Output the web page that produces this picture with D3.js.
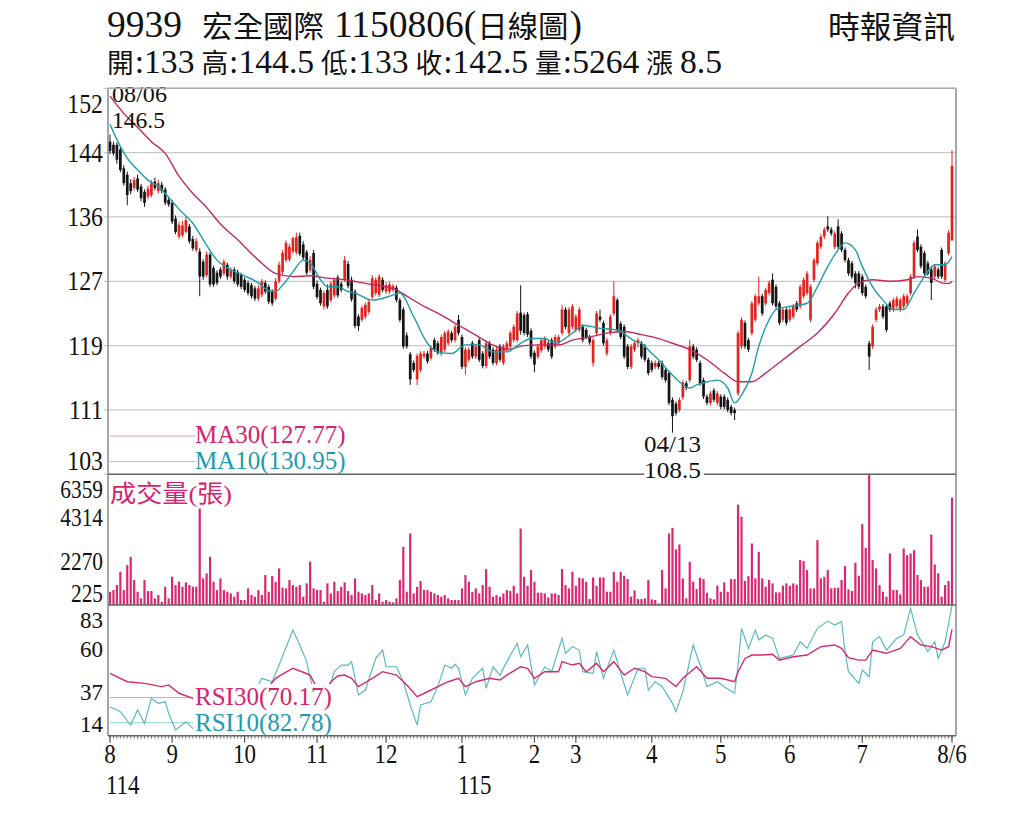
<!DOCTYPE html>
<html>
<head>
<meta charset="utf-8">
<script src="https://cdn.jsdelivr.net/npm/d3@7.9.0/dist/d3.min.js"></script>
<style>
  html, body { margin: 0; padding: 0; background: #fff; }
  svg { display: block; }
</style>
</head>
<body>
<svg id="chart" width="1024" height="819"></svg>
<script>
// ---- daily candles [open, high, low, close], 114/08/06 .. 115/08/06 ----
const candles = [
  [145.6,146.5,144.0,144.4],[145.2,145.6,143.8,144.1],[145.2,145.5,142.8,143.3],[144.6,145.0,141.7,142.0],[142.2,142.6,140.0,140.3],[141.4,141.8,137.5,138.8],[140.3,140.8,138.9,139.3],[139.7,141.1,139.4,140.7],[140.9,141.4,139.2,139.5],[139.9,140.2,138.0,138.4],
  [139.2,139.5,137.3,137.8],[138.6,140.0,138.3,139.6],[138.8,140.7,138.5,140.3],[140.5,141.0,139.4,139.7],[139.3,140.7,139.0,140.3],[140.1,140.5,139.0,139.3],[139.5,139.8,137.5,137.8],[138.2,138.6,137.3,137.6],[137.8,138.2,135.1,135.4],[135.8,136.2,133.8,134.1],
  [133.5,135.4,133.2,135.0],[133.7,135.5,133.4,134.9],[134.1,136.1,133.9,135.6],[134.8,135.1,132.6,132.9],[133.2,133.6,131.7,132.0],[131.8,133.3,131.5,132.9],[131.6,132.0,125.9,128.4],[130.3,130.6,128.0,128.4],[128.6,131.6,128.3,131.2],[131.2,131.5,127.1,127.4],
  [129.5,129.8,127.1,127.4],[128.9,129.2,127.3,127.6],[129.3,129.6,128.1,128.4],[128.8,130.6,128.5,130.3],[129.9,130.2,128.0,128.4],[128.4,129.6,128.1,129.3],[129.3,129.6,127.5,127.8],[129.0,129.3,127.1,127.4],[128.6,128.9,126.8,127.1],[128.0,128.3,126.4,126.7],
  [127.6,127.9,126.0,126.3],[127.3,127.6,125.6,125.9],[126.9,127.2,125.3,125.6],[125.6,127.3,125.3,126.9],[126.1,128.1,125.8,127.8],[127.6,127.9,126.2,126.5],[127.1,127.4,124.9,125.2],[126.5,126.8,124.7,125.0],[125.6,128.2,125.3,127.8],[127.8,130.3,127.5,129.9],
  [129.0,131.8,128.7,131.4],[130.5,133.0,130.2,132.7],[130.6,132.6,130.3,132.2],[131.6,133.5,131.3,133.3],[131.5,134.0,131.2,133.4],[133.6,134.0,131.0,131.3],[132.5,132.9,130.5,130.8],[131.5,131.8,128.6,128.9],[129.2,131.0,128.9,130.5],[131.4,131.8,126.8,127.1],
  [127.5,127.9,125.5,125.8],[126.7,127.0,124.7,125.0],[124.6,126.6,124.2,126.3],[126.7,127.4,124.3,124.6],[125.4,127.8,125.1,127.5],[126.0,128.3,125.7,128.0],[128.3,128.6,125.7,126.0],[127.5,127.8,126.4,126.7],[128.0,131.0,127.7,130.5],[130.0,130.4,126.9,127.2],
  [128.0,128.4,125.2,125.5],[126.5,126.8,121.8,122.1],[123.3,123.6,121.5,122.1],[122.9,124.7,122.6,124.4],[123.3,125.1,123.0,124.8],[123.9,125.5,123.6,125.2],[125.8,128.6,125.5,128.2],[126.3,128.3,126.0,128.0],[126.1,128.7,125.8,128.4],[128.0,128.3,126.4,126.7],
  [126.5,127.7,126.2,127.3],[126.5,127.8,126.2,127.4],[126.7,127.5,126.4,127.2],[127.0,127.3,125.1,125.4],[125.4,125.7,122.6,122.9],[124.2,124.5,119.2,119.5],[120.9,121.3,119.2,119.5],[118.5,118.8,114.6,115.3],[117.4,117.7,116.2,116.5],[115.3,118.6,114.6,118.3],
  [116.5,118.9,116.2,118.6],[118.2,118.9,117.9,118.6],[118.6,118.9,117.3,117.6],[118.0,119.6,117.7,119.3],[120.3,120.6,118.8,119.1],[119.9,120.2,118.4,118.7],[118.6,121.0,118.3,120.7],[119.1,121.5,118.8,121.2],[119.9,121.7,119.6,121.4],[121.2,121.5,120.0,120.3],
  [120.3,122.3,120.0,122.0],[122.9,123.5,120.9,121.2],[120.7,121.0,116.6,116.9],[116.9,119.4,115.9,119.1],[117.8,119.4,117.5,119.1],[119.9,120.2,117.9,118.2],[118.2,119.8,117.9,119.5],[120.3,120.6,117.5,117.8],[118.6,118.9,116.7,117.0],[117.0,120.2,116.7,119.9],
  [119.9,120.2,117.9,118.2],[119.1,119.4,117.1,117.4],[117.4,119.4,117.1,119.1],[119.5,119.8,117.5,117.8],[117.4,119.8,117.1,119.5],[119.1,120.2,118.8,119.9],[119.5,121.5,119.2,121.2],[120.3,122.3,120.0,122.0],[120.3,124.0,120.0,123.7],[123.8,127.3,121.0,121.5],
  [123.5,123.8,120.9,121.2],[123.6,123.9,120.7,121.0],[121.5,121.8,117.9,118.2],[118.7,119.0,116.2,117.2],[118.2,119.8,117.9,119.5],[119.0,120.6,118.7,120.3],[119.5,120.8,119.2,120.5],[119.9,120.2,118.8,119.1],[120.3,120.6,117.9,118.2],[119.5,121.0,119.2,120.7],
  [119.9,121.0,119.6,120.7],[121.2,124.8,120.9,124.2],[124.2,124.5,121.7,122.0],[121.2,124.5,120.9,124.2],[122.0,124.9,121.7,124.6],[121.6,123.6,121.3,123.3],[121.6,124.5,121.3,124.2],[122.0,122.3,120.0,120.3],[121.6,121.9,120.4,120.7],[120.7,121.0,119.7,120.0],
  [117.4,120.6,116.9,120.3],[121.2,124.0,120.9,123.7],[123.3,124.2,122.6,122.9],[122.5,122.8,119.6,119.9],[118.6,120.6,118.3,120.3],[121.2,123.6,120.9,123.3],[123.7,127.8,123.4,125.9],[125.4,125.7,121.3,121.6],[122.4,122.7,120.4,120.7],[122.0,122.3,117.9,118.2],
  [119.5,119.8,116.6,116.9],[116.9,119.8,116.6,119.5],[119.1,120.2,118.8,119.9],[119.9,120.6,119.4,120.3],[119.9,120.2,117.9,118.2],[119.5,119.8,117.5,117.8],[117.8,118.1,115.8,116.1],[117.4,117.7,116.2,116.5],[116.9,117.7,116.6,117.4],[117.4,117.7,116.6,116.9],
  [117.4,117.7,115.3,115.6],[116.5,116.8,114.9,115.2],[116.1,116.4,112.0,112.3],[112.7,113.0,108.5,110.6],[112.2,112.5,110.7,111.0],[111.4,113.0,111.1,112.7],[113.0,115.2,112.7,114.9],[114.8,115.1,113.9,114.2],[115.2,120.3,114.9,119.5],[119.5,119.8,117.9,118.2],
  [119.1,119.4,117.5,117.8],[117.4,117.7,114.5,114.8],[115.2,115.5,112.8,113.1],[113.1,113.4,112.0,112.3],[112.3,113.8,112.0,113.5],[113.9,114.2,112.4,112.7],[112.3,113.8,112.0,113.5],[113.1,113.4,111.5,111.8],[113.1,113.4,111.5,111.8],[112.7,113.0,111.1,111.4],
  [111.8,112.1,110.7,111.0],[111.4,111.7,110.1,111.0],[113.5,121.5,113.2,121.2],[119.5,123.2,119.2,122.9],[122.5,122.8,119.2,119.5],[120.3,120.6,118.8,119.1],[121.2,125.3,120.9,125.0],[122.9,126.2,122.6,125.9],[125.0,128.4,124.7,125.9],[125.9,126.2,123.4,123.7],
  [125.0,127.0,124.7,126.7],[126.3,127.9,126.0,127.6],[128.0,128.8,124.7,125.0],[127.1,127.4,124.3,124.6],[125.0,125.3,122.2,122.5],[122.9,124.5,122.6,124.2],[124.2,124.5,122.2,122.5],[122.9,124.5,122.6,124.2],[123.3,124.9,123.0,124.6],[125.0,125.3,123.9,124.2],
  [124.6,127.4,124.3,127.1],[125.9,128.3,125.6,128.0],[126.3,129.1,126.0,128.8],[122.9,127.4,122.6,127.1],[128.0,130.8,127.7,130.5],[130.1,133.0,129.8,132.7],[132.2,133.8,131.9,133.5],[133.5,134.7,133.2,134.4],[134.8,136.1,134.1,134.4],[134.4,134.7,133.6,133.9],
  [132.2,134.2,131.9,133.9],[134.8,135.7,131.9,132.2],[133.9,134.2,131.5,131.8],[131.8,132.1,130.2,130.5],[130.5,130.8,128.5,128.8],[130.1,130.4,128.1,128.4],[128.8,129.1,126.9,127.6],[128.8,129.1,126.8,127.1],[128.4,128.7,126.0,126.3],[127.1,127.4,125.6,125.9],
  [119.9,120.2,116.5,118.2],[119.5,122.3,119.2,122.0],[122.9,124.5,122.6,124.2],[124.2,124.9,123.9,124.6],[124.6,124.9,123.0,123.3],[124.6,124.9,121.3,121.6],[125.0,125.3,123.9,124.2],[124.2,125.7,123.9,125.4],[124.6,125.9,124.3,125.6],[124.2,125.7,123.9,125.4],
  [124.6,126.2,124.3,125.9],[125.0,126.2,124.7,125.9],[126.3,128.7,126.0,128.4],[128.4,133.0,128.1,132.7],[133.5,134.4,131.5,131.8],[132.2,132.5,129.4,129.7],[131.4,131.7,128.5,128.8],[130.1,130.4,128.5,128.8],[129.3,129.6,125.4,127.6],[128.4,130.0,128.1,129.7],
  [129.3,129.6,128.1,128.4],[131.8,132.1,128.1,128.4],[128.0,130.4,127.7,130.1],[131.4,134.3,131.1,134.0],[133.0,144.5,133.0,142.5]
];

// ---- daily volume (張) ----
const volumes = [
  848,926,1160,1785,926,2097,2487,1395,848,536,
  1395,879,879,536,692,380,1082,536,1551,1160,
  1317,1082,1285,1160,1082,1082,4751,1473,1707,2487,
  1317,926,1473,926,848,770,614,848,458,458,
  1004,692,614,926,692,1629,848,1582,1317,1941,
  1036,1004,1395,1160,1082,1160,614,1239,2253,1004,
  926,926,380,1239,770,1317,879,1082,1285,879,
  692,1473,848,770,692,770,1160,458,770,380,
  458,380,349,536,1395,2955,848,3580,770,1082,
  1348,926,926,848,770,692,614,692,536,458,
  458,458,1004,1629,1317,848,1004,770,1160,1910,
  1082,614,692,614,770,926,879,1129,770,3814,
  1551,1129,1863,1317,801,801,770,583,770,770,
  692,1910,1160,1004,1785,1129,1504,1473,1317,505,
  1519,1129,1519,1519,848,848,1785,1317,1785,1598,
  1441,614,911,505,505,536,1395,489,458,302,
  1863,1004,3580,3845,2831,3065,1473,536,2253,1317,
  973,1504,1441,801,536,489,1129,848,1285,848,
  1441,1441,4938,4361,1348,1582,3112,1473,2721,1473,
  1082,1395,1239,817,817,1129,1239,1129,1239,1180,
  2331,2284,1863,1004,1004,3268,1473,1551,1863,1004,
  1036,1036,1395,2050,957,879,2206,1598,4017,2909,
  6343,2331,1941,1160,848,614,2643,926,926,723,
  2878,2565,2643,2799,1629,1395,1082,1082,3533,2128,
  1707,614,1160,1348,5264
];

// ---- moving averages [day, value] ----
const ma30 = [
  [0,151.4],[4,149.2],[8,147.4],[12,145.6],[16,144.1],[20,141.2],[24,139.0],[28,137.2],[32,135.1],[37,133.1],
  [43,130.5],[48,128.8],[53,128.4],[58,128.5],[63,128.2],[68,128.0],[72,127.7],[76,127.4],[83,126.7],[86,125.9],
  [91,124.6],[96,123.5],[101,122.2],[105,121.2],[110,119.9],[115,119.1],[120,119.6],[125,119.7],[130,119.7],[134,120.3],
  [139,120.7],[144,121.2],[149,121.4],[154,121.0],[159,120.5],[163,119.9],[168,119.1],[173,117.8],[178,116.1],[182,115.0],
  [186,115.0],[190,116.1],[195,117.8],[200,119.5],[205,121.2],[210,123.7],[214,126.3],[217,127.6],[221,128.0],[226,127.8],
  [231,128.0],[234,128.4],[238,128.2],[241,127.6],[243,127.5],[244,127.77]
];
const ma10 = [
  [0,147.8],[3,145.0],[5,143.5],[8,142.0],[11,140.7],[14,139.9],[17,138.5],[20,137.0],[24,135.2],[28,132.4],
  [31,130.5],[34,129.5],[39,128.5],[43,127.6],[46,126.6],[48,126.5],[50,127.3],[53,129.0],[56,130.5],[58,130.1],
  [61,128.0],[63,127.1],[66,127.1],[69,126.5],[71,126.3],[76,125.4],[81,125.9],[84,126.3],[88,123.3],[92,119.9],
  [95,118.8],[99,118.6],[103,119.7],[107,119.7],[111,118.8],[115,118.8],[119,119.9],[122,120.5],[126,120.5],[129,119.9],
  [134,121.2],[137,122.2],[142,121.8],[147,121.6],[152,120.2],[154,119.9],[157,118.6],[159,117.8],[162,116.3],[165,115.0],
  [168,114.2],[170,114.6],[173,115.0],[176,115.2],[179,114.2],[181,112.3],[183,113.3],[186,116.1],[188,119.5],[191,122.9],
  [193,124.2],[197,124.6],[202,125.0],[205,127.1],[208,129.7],[211,131.8],[213,132.7],[216,131.8],[218,129.7],[221,127.1],
  [224,125.4],[227,124.2],[230,124.2],[233,126.3],[236,128.4],[239,129.9],[242,129.9],[244,130.95]
];

// ---- RSI [day, value] ----
const rsi30 = [
  [0,46.9],[5,42.5],[10,41.6],[15,39.9],[17,40.8],[20,36.4],[24,33.7],[28,33.0],[34,32.0],[40,34.0],
  [44,36.0],[46,40.0],[48,44.3],[50,46.5],[53,49.6],[56,47.5],[58,46.0],[60,39.0],[62,36.5],[64,42.5],
  [66,45.5],[68,46.0],[70,44.3],[72,39.9],[76,44.3],[79,47.8],[83,46.0],[86,40.8],[89,34.6],[92,37.2],
  [95,39.9],[98,42.5],[101,44.3],[103,39.9],[106,42.5],[110,44.3],[113,43.4],[115,46.0],[119,50.4],[121,49.6],
  [123,44.3],[126,47.8],[130,47.8],[131,53.1],[134,51.3],[136,52.2],[138,47.8],[141,52.2],[143,47.8],[146,53.1],
  [149,46.0],[152,49.6],[155,47.8],[157,45.2],[161,44.3],[164,39.9],[166,44.3],[170,50.4],[173,44.3],[177,44.3],
  [181,42.5],[182,47.8],[184,54.8],[186,56.6],[189,56.6],[192,57.0],[194,53.9],[198,55.7],[202,56.6],[206,61.0],
  [210,61.9],[212,60.1],[214,55.2],[217,53.9],[219,53.9],[221,59.2],[225,57.5],[229,60.1],[232,66.3],[235,61.9],
  [238,61.0],[241,59.2],[243,61.0],[244,70.17]
];
const rsi10 = [
  [0,29.3],[3,26.7],[6,19.6],[8,27.6],[10,20.5],[12,33.7],[14,31.1],[16,31.9],[17,25.8],[19,17.0],
  [22,21.4],[24,17.9],[28,22.0],[32,18.0],[36,25.0],[40,30.0],[44,44.3],[47,42.5],[49,51.3],[53,69.8],
  [55,61.9],[57,53.1],[58,44.3],[60,32.0],[62,30.0],[65,47.8],[67,51.3],[69,51.3],[70,53.1],[72,35.5],
  [74,38.1],[77,54.8],[79,59.2],[80,50.4],[83,50.4],[85,42.5],[87,30.2],[89,19.6],[90,30.2],[93,31.9],
  [95,39.9],[97,51.3],[99,49.6],[100,51.7],[101,49.6],[103,35.5],[105,44.3],[108,49.6],[109,39.0],[111,50.4],
  [113,46.0],[115,53.1],[118,62.8],[119,55.7],[121,61.9],[122,51.3],[123,40.8],[126,50.4],[128,47.8],[131,65.4],
  [132,57.5],[134,61.0],[136,59.2],[137,47.8],[140,46.9],[141,58.4],[143,44.3],[146,59.2],[148,46.9],[150,35.5],
  [153,49.6],[155,49.6],[156,38.1],[158,42.5],[160,39.9],[163,31.1],[164,26.7],[166,37.2],[169,61.9],[171,51.3],
  [173,39.9],[176,42.5],[178,39.9],[181,36.4],[182,51.3],[183,70.7],[185,60.1],[187,69.8],[188,64.5],[190,67.2],
  [192,65.4],[194,54.8],[198,56.6],[200,63.6],[202,60.1],[205,70.7],[208,74.5],[210,72.4],[212,74.2],[213,58.4],
  [214,47.8],[217,41.6],[218,48.7],[220,45.2],[221,63.6],[223,66.3],[225,59.2],[228,65.4],[230,67.2],[232,81.2],
  [234,67.2],[237,58.4],[239,63.6],[240,54.8],[242,63.6],[244,82.78]
];

// ---- axis ticks ----
const priceGrid = [103.2, 111.4, 119.6, 127.8, 136.0, 144.2, 152.4];
const volTicks = [225, 2270, 4314, 6359];
const rsiTicks = [14, 37, 60, 83];
const monthTicks = [[0,'8'],[18,'9'],[39,'10'],[60,'11'],[80,'12'],[102,'1'],[123,'2'],[135,'3'],[157,'4'],[177,'5'],[197,'6'],[218,'7'],[244,'8/6']];
const yearTicks = [[0,'114'],[102,'115']];

// ---- title pieces [text, isCJK, gap after] ----
const titleParts = [['9939', false, 20], ['宏全國際', true, 10], ['1150806(', false, 1], ['日線圖', true, 1], [')', false, 0]];
const quoteParts = [
  ['開', true, 1], [':133', false, 7], ['高', true, 1], [':144.5', false, 7], ['低', true, 1], [':133', false, 7],
  ['收', true, 1], [':142.5', false, 7], ['量', true, 1], [':5264', false, 7], ['漲', true, 7], ['8.5', false, 0]
];

// ---- layout ----
const SERIF = "'Liberation Serif','Times New Roman','Noto Sans CJK TC',serif";
const RED = '#e3231d', BLACK = '#141414';
const PINK = '#d8226e', TEAL = '#1c9cb0';
const L = 108, R = 956;
const P_TOP = 88.3, P_BOT = 474.3, V_BOT = 605, R_BOT = 735.7;

const svg = d3.select('#chart');

const x = d3.scaleLinear().domain([0, candles.length - 1]).range([110, 952]);
const yP = d3.scaleLinear().domain([103.2, 152.4]).range([P_BOT, P_TOP]);
const yV = d3.scaleLinear().domain([225, 6359]).range([V_BOT, P_BOT]);
const yR = d3.scaleLinear().domain([14, 83]).range([R_BOT, V_BOT]);

// text helper, condenses the serif face like the original
function label(g, px, py, str, o = {}) {
  const t = g.append('text')
    .attr('x', px).attr('y', py)
    .attr('font-family', o.family || SERIF)
    .attr('font-size', o.size || 25)
    .attr('fill', o.fill || '#111')
    .attr('text-anchor', o.anchor || 'start')
    .text(str);
  if (o.width) {
    t.attr('textLength', o.width).attr('lengthAdjust', 'spacingAndGlyphs');
  } else if (o.cond) {
    const w = t.node().getComputedTextLength();
    t.attr('textLength', w * o.cond).attr('lengthAdjust', 'spacingAndGlyphs');
  }
  return t;
}

// lays a row of mixed CJK / latin pieces between x0 and x1
function textRow(x0, x1, base, parts, latinSize, cjkSize) {
  const nodes = parts.map(([s, cjk]) => svg.append('text')
    .attr('y', base).attr('fill', '#111')
    .attr('font-family', SERIF)
    .attr('font-size', cjk ? cjkSize : latinSize)
    .text(s));
  const w = nodes.map(n => n.node().getComputedTextLength());
  const total = d3.sum(w) + d3.sum(parts, p => p[2]);
  const k = (x1 - x0) / total;
  let cx = x0;
  nodes.forEach((n, i) => {
    n.attr('x', cx);
    if (Math.abs(k - 1) > 0.01) n.attr('textLength', w[i] * k).attr('lengthAdjust', 'spacingAndGlyphs');
    cx += (w[i] + parts[i][2]) * k;
  });
}

// ---- title ----
textRow(107, 582, 37, titleParts, 37, 30);
textRow(107, 722, 73, quoteParts, 34, 27);
label(svg, 828, 38, '時報資訊', { size: 31, width: 127 });

// ---- price panel ----
const gGrid = svg.append('g');
gGrid.selectAll('line').data(priceGrid).join('line')
  .attr('x1', 104).attr('x2', R)
  .attr('y1', d => yP(d)).attr('y2', d => yP(d))
  .attr('stroke', '#c9c9c9').attr('stroke-width', 1.2);

const clamp = (v, a, b) => Math.max(a, Math.min(b, v));
const gAx = svg.append('g');
priceGrid.forEach(v => {
  const cy = clamp(yP(v), P_TOP + 16, P_BOT - 13);
  label(gAx, 103, cy + 9, String(Math.floor(v)), { size: 27, anchor: 'end', cond: 0.88 });
});
volTicks.forEach(v => {
  const cy = clamp(yV(v), P_BOT + 15, V_BOT - 12);
  label(gAx, 103, cy + 8.5, String(v), { size: 26, anchor: 'end', cond: 0.82 });
});
rsiTicks.forEach(v => {
  const cy = clamp(yR(v), V_BOT + 15, R_BOT - 12);
  label(gAx, 103, cy + 8, String(v), { size: 23, anchor: 'end' });
});

svg.append('clipPath').attr('id', 'clipP')
  .append('rect').attr('x', L).attr('y', P_TOP).attr('width', R - L).attr('height', P_BOT - P_TOP);
svg.append('clipPath').attr('id', 'clipR')
  .append('rect').attr('x', L).attr('y', V_BOT).attr('width', R - L).attr('height', R_BOT - V_BOT);

// MA legend lines
svg.append('line').attr('x1', 110).attr('x2', 196).attr('y1', 436).attr('y2', 436)
  .attr('stroke', '#e79bb9').attr('stroke-width', 1.2);
svg.append('line').attr('x1', 110).attr('x2', 196).attr('y1', 461.5).attr('y2', 461.5)
  .attr('stroke', '#9fd3da').attr('stroke-width', 1.2);

// candles
const up = d => d[3] > d[0];
const gC = svg.append('g');
gC.selectAll('line').data(candles).join('line')
  .attr('x1', (d, i) => x(i)).attr('x2', (d, i) => x(i))
  .attr('y1', d => yP(d[1])).attr('y2', d => yP(d[2]))
  .attr('stroke', d => up(d) ? RED : BLACK).attr('stroke-width', 1);
gC.selectAll('rect').data(candles).join('rect')
  .attr('x', (d, i) => x(i) - 1.35).attr('width', 2.7)
  .attr('y', d => yP(Math.max(d[0], d[3])))
  .attr('height', d => Math.max(1, Math.abs(yP(d[0]) - yP(d[3]))))
  .attr('fill', d => up(d) ? RED : BLACK);

// moving averages
const maLine = d3.line().x(d => x(d[0])).y(d => yP(d[1])).curve(d3.curveMonotoneX);
const gMA = svg.append('g').attr('clip-path', 'url(#clipP)');
gMA.append('path').attr('d', maLine(ma30)).attr('fill', 'none')
  .attr('stroke', '#c02a64').attr('stroke-width', 1.4);
gMA.append('path').attr('d', maLine(ma10)).attr('fill', 'none')
  .attr('stroke', '#1f9ea8').attr('stroke-width', 1.4);

label(svg, 195, 443, 'MA30(127.77)', { size: 25, fill: PINK });
label(svg, 195, 469, 'MA10(130.95)', { size: 25, fill: TEAL });

// annotations
label(svg, 112, 102, '08/06', { size: 23, width: 55 });
label(svg, 112, 128, '146.5', { size: 23, width: 53 });
label(svg, x(163), 452, '04/13', { size: 23, anchor: 'middle', width: 57 });

// ---- volume panel ----
const gV = svg.append('g');
gV.selectAll('rect').data(volumes).join('rect')
  .attr('x', (d, i) => x(i) - 1.1).attr('width', 2.2)
  .attr('y', d => yV(Math.max(d, 225)))
  .attr('height', d => V_BOT - yV(Math.max(d, 225)))
  .attr('fill', '#d9286f');
label(svg, 110, 502, '成交量(張)', { size: 24, fill: PINK, width: 122 });

// ---- RSI panel ----
svg.append('line').attr('x1', 110).attr('x2', 196).attr('y1', 697.5).attr('y2', 697.5)
  .attr('stroke', '#e79bb9').attr('stroke-width', 1.2);
svg.append('line').attr('x1', 110).attr('x2', 196).attr('y1', 722.7).attr('y2', 722.7)
  .attr('stroke', '#a9d8de').attr('stroke-width', 1.2);

const rsiLine = d3.line().x(d => x(d[0])).y(d => yR(d[1]));
const gR = svg.append('g').attr('clip-path', 'url(#clipR)');
gR.append('path').attr('d', rsiLine(rsi10)).attr('fill', 'none')
  .attr('stroke', '#5bbac4').attr('stroke-width', 1.2);
gR.append('path').attr('d', rsiLine(rsi30)).attr('fill', 'none')
  .attr('stroke', '#d62a6f').attr('stroke-width', 1.4);

svg.append('rect').attr('x', 193).attr('y', 684).attr('width', 141).attr('height', 51).attr('fill', '#fff');
label(svg, 195, 705, 'RSI30(70.17)', { size: 25, fill: PINK });
label(svg, 195, 731, 'RSI10(82.78)', { size: 25, fill: TEAL });

// ---- frame ----
const frame = svg.append('g').attr('stroke-width', 1.5);
frame.append('line').attr('x1', L).attr('x2', L).attr('y1', P_TOP).attr('y2', R_BOT).attr('stroke', '#8a8a8a');
frame.append('line').attr('x1', R).attr('x2', R).attr('y1', P_TOP).attr('y2', R_BOT).attr('stroke', '#8a8a8a');
frame.append('line').attr('x1', L).attr('x2', R).attr('y1', P_TOP).attr('y2', P_TOP).attr('stroke', '#aaa');
[P_BOT, V_BOT, R_BOT].forEach(yy => {
  frame.append('line').attr('x1', L).attr('x2', R).attr('y1', yy).attr('y2', yy).attr('stroke', '#666');
});

// low annotation sits across the panel border
svg.append('rect').attr('x', 644).attr('y', 460).attr('width', 60).attr('height', 19).attr('fill', '#fff');
label(svg, x(163), 478, '108.5', { size: 23, anchor: 'middle', width: 57 });

// ---- time axis ----
const gT = svg.append('g').attr('stroke', '#555');
gT.selectAll('line.d').data(candles).join('line').attr('class', 'd')
  .attr('x1', (d, i) => x(i)).attr('x2', (d, i) => x(i))
  .attr('y1', R_BOT).attr('y2', R_BOT + 3).attr('stroke-width', 0.8);
gT.selectAll('line.m').data(monthTicks).join('line').attr('class', 'm')
  .attr('x1', d => x(d[0])).attr('x2', d => x(d[0]))
  .attr('y1', R_BOT).attr('y2', R_BOT + 7).attr('stroke-width', 1.2);

monthTicks.forEach(([i, s]) => label(svg, x(i), 763, s, { size: 27, anchor: 'middle', cond: 0.85 }));
yearTicks.forEach(([i, s]) => label(svg, x(i) - 4, 794, s, { size: 27, cond: 0.85 }));
</script>
</body>
</html>
